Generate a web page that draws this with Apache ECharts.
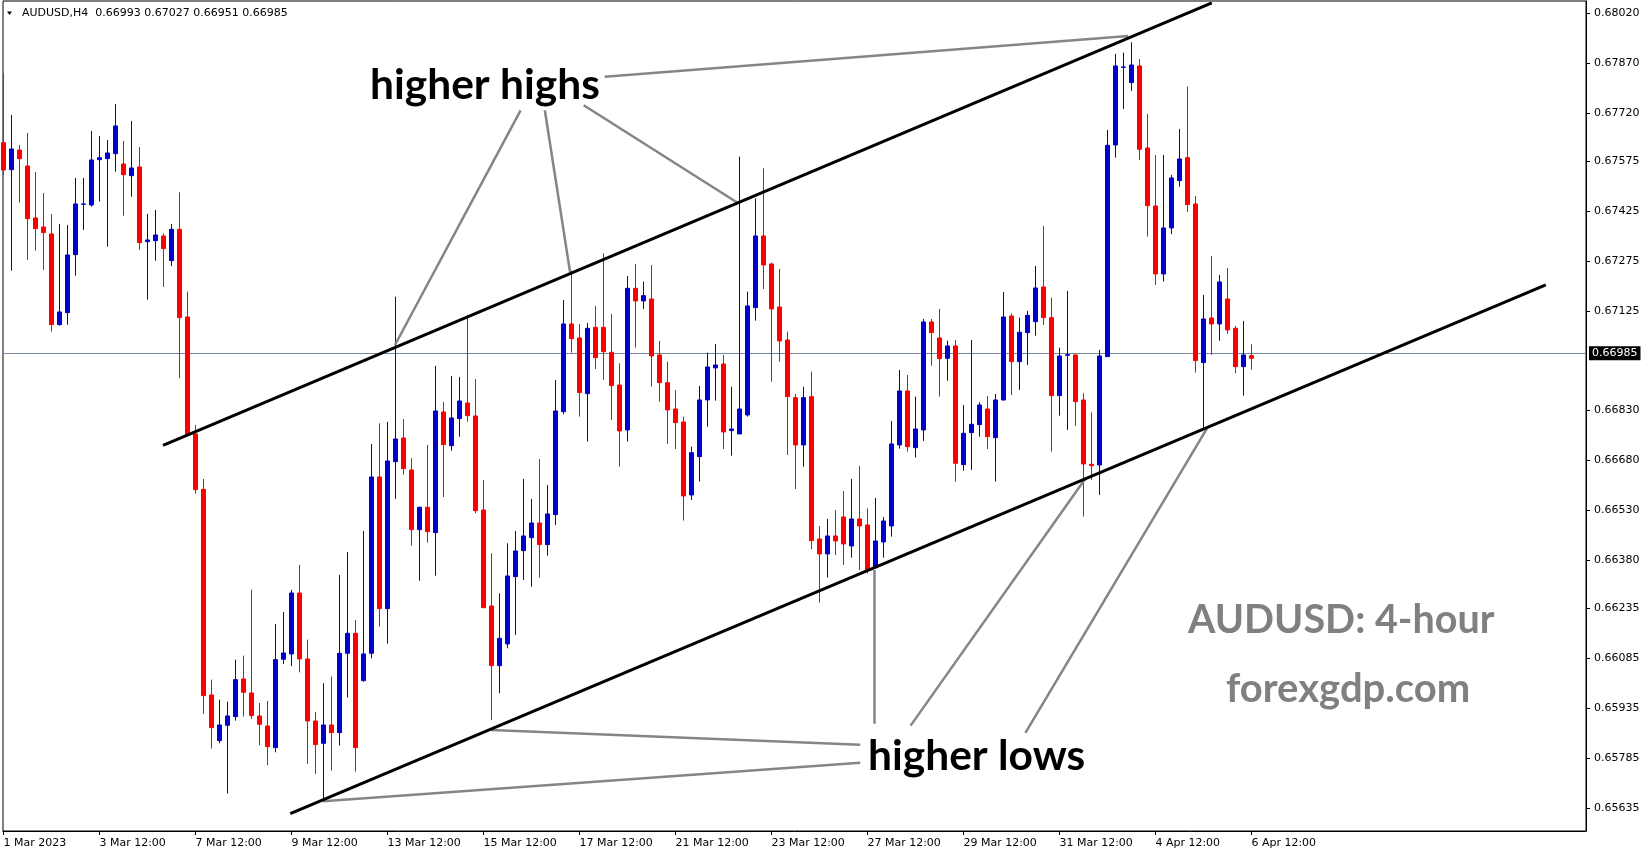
<!DOCTYPE html>
<html>
<head>
<meta charset="utf-8">
<script src="https://cdn.jsdelivr.net/npm/echarts@6/dist/echarts.min.js"></script>
<style>
html,body{margin:0;padding:0;background:#fff;}
#c{width:1649px;height:850px;}
</style>
</head>
<body>
<div id="c"></div>
<script>
// ---- data (AUDUSD H4, bar 0 = 1 Mar 2023 12:00) ----
const opens = [
0.67632,0.67551,0.67610,0.67562,0.67406,0.67379,0.67358,0.67086,0.67122,0.67296,
0.67447,0.67445,0.67581,0.67584,0.67599,0.67568,0.67533,0.67559,0.67335,0.67338,
0.67352,0.67278,0.67372,0.67109,0.66758,0.66592,0.65975,0.65838,0.65884,0.65910,
0.66023,0.65981,0.65912,0.65882,0.65817,0.66082,0.66098,0.66281,0.66083,0.65897,
0.65830,0.65885,0.65862,0.66100,0.66160,0.66018,0.66100,0.66629,0.66234,0.66675,
0.66746,0.66650,0.66471,0.66538,0.66462,0.66824,0.66723,0.66804,0.66851,0.66812,
0.66530,0.66242,0.66063,0.66128,0.66330,0.66408,0.66447,0.66491,0.66426,0.66516,
0.66825,0.67088,0.67046,0.66879,0.67078,0.67078,0.67003,0.66905,0.66770,0.67195,
0.67157,0.67163,0.66995,0.66912,0.66833,0.66794,0.66575,0.66690,0.66860,0.66956,
0.66968,0.66768,0.66758,0.66815,0.67137,0.67352,0.67268,0.67139,0.67040,0.66867,
0.66725,0.66870,0.66443,0.66398,0.66452,0.66509,0.66422,0.66503,0.66485,0.66357,
0.66434,0.66482,0.66725,0.66887,0.66717,0.66770,0.67094,0.67046,0.66985,0.67022,
0.66666,0.66762,0.66786,0.66833,0.66747,0.66860,0.67112,0.66975,0.67062,0.67095,
0.67199,0.67107,0.66873,0.66994,0.66995,0.66860,0.66667,0.66665,0.66990,0.67625,
0.67858,0.67812,0.67862,0.67616,0.67442,0.67238,0.67376,0.67518,0.67587,0.67448,
0.66972,0.67106,0.67088,0.67163,0.67075,0.66960,0.66993
];
const highs = [
0.67840,0.67715,0.67625,0.67661,0.67544,0.67481,0.67418,0.67388,0.67385,0.67526,
0.67526,0.67667,0.67652,0.67640,0.67748,0.67637,0.67697,0.67619,0.67418,0.67430,
0.67360,0.67388,0.67483,0.67185,0.66785,0.66623,0.66021,0.65961,0.65955,0.66081,
0.66093,0.66291,0.65951,0.65957,0.66188,0.66224,0.66290,0.66365,0.66141,0.65924,
0.66010,0.66030,0.66335,0.66404,0.66200,0.66467,0.66728,0.66790,0.66794,0.67170,
0.66803,0.66685,0.66540,0.66725,0.66962,0.66854,0.66932,0.66929,0.67115,0.66923,
0.66620,0.66400,0.66280,0.66430,0.66467,0.66623,0.66563,0.66683,0.66605,0.66920,
0.67160,0.67248,0.67088,0.67091,0.67142,0.67300,0.67118,0.66970,0.67232,0.67268,
0.67215,0.67265,0.67037,0.66975,0.66890,0.66810,0.66720,0.66902,0.67002,0.67028,
0.66995,0.66900,0.67590,0.67185,0.67465,0.67555,0.67272,0.67253,0.67065,0.66878,
0.66900,0.66945,0.66482,0.66503,0.66530,0.66587,0.66623,0.66662,0.66535,0.66566,
0.66509,0.66797,0.66950,0.66935,0.66870,0.67103,0.67103,0.67133,0.67038,0.67040,
0.66845,0.67040,0.66853,0.66872,0.66878,0.67184,0.67120,0.67107,0.67127,0.67262,
0.67382,0.67167,0.67017,0.67187,0.66997,0.66880,0.66823,0.67010,0.67670,0.67898,
0.67902,0.67933,0.67883,0.67718,0.67595,0.67595,0.67535,0.67673,0.67800,0.67472,
0.67175,0.67292,0.67235,0.67256,0.67082,0.67097,0.67027
];
const lows = [
0.67535,0.67248,0.67452,0.67280,0.67308,0.67250,0.67065,0.67083,0.67086,0.67233,
0.67370,0.67440,0.67455,0.67320,0.67545,0.67413,0.67470,0.67310,0.67161,0.67278,
0.67199,0.67262,0.66925,0.66754,0.66579,0.65918,0.65814,0.65830,0.65679,0.65898,
0.65910,0.65903,0.65824,0.65764,0.65803,0.66068,0.66062,0.66043,0.65768,0.65738,
0.65656,0.65748,0.65823,0.65967,0.65745,0.66015,0.66085,0.66180,0.66129,0.66563,
0.66636,0.66423,0.66318,0.66432,0.66333,0.66569,0.66708,0.66750,0.66795,0.66520,
0.66235,0.65900,0.65980,0.66115,0.66155,0.66320,0.66300,0.66327,0.66393,0.66485,
0.66817,0.67002,0.66810,0.66735,0.66953,0.66920,0.66800,0.66660,0.66735,0.67017,
0.67133,0.66900,0.66855,0.66728,0.66713,0.66498,0.66560,0.66615,0.66780,0.66858,
0.66713,0.66693,0.66758,0.66810,0.67098,0.67193,0.66915,0.66975,0.66695,0.66593,
0.66660,0.66412,0.66252,0.66327,0.66395,0.66365,0.66387,0.66350,0.66340,0.66357,
0.66387,0.66450,0.66714,0.66705,0.66687,0.66737,0.66963,0.66870,0.66918,0.66615,
0.66648,0.66650,0.66750,0.66713,0.66615,0.66858,0.66875,0.66890,0.66965,0.67053,
0.67085,0.66705,0.66813,0.66770,0.66782,0.66510,0.66620,0.66575,0.66990,0.67587,
0.67733,0.67787,0.67580,0.67350,0.67205,0.67215,0.67358,0.67500,0.67424,0.66942,
0.66775,0.66995,0.67038,0.67058,0.66940,0.66873,0.66951
];
const closes = [
0.67550,0.67613,0.67584,0.67404,0.67374,0.67362,0.67086,0.67124,0.67295,0.67448,
0.67448,0.67580,0.67587,0.67601,0.67682,0.67536,0.67556,0.67332,0.67340,0.67355,
0.67314,0.67372,0.67107,0.66756,0.66591,0.65973,0.65877,0.65885,0.65912,0.66021,
0.65983,0.65913,0.65887,0.65820,0.66081,0.66101,0.66281,0.66083,0.65897,0.65826,
0.65885,0.65862,0.66100,0.66160,0.65817,0.66098,0.66629,0.66234,0.66677,0.66743,
0.66654,0.66471,0.66538,0.66465,0.66827,0.66726,0.66806,0.66857,0.66813,0.66528,
0.66237,0.66063,0.66145,0.66332,0.66407,0.66452,0.66491,0.66426,0.66518,0.66827,
0.67088,0.67044,0.66882,0.67075,0.66987,0.67005,0.66903,0.66767,0.67195,0.67157,
0.67173,0.66992,0.66912,0.66830,0.66792,0.66572,0.66702,0.66860,0.66959,0.66965,
0.66764,0.66773,0.66833,0.67142,0.67352,0.67265,0.67133,0.67037,0.66870,0.66725,
0.66867,0.66438,0.66398,0.66452,0.66437,0.66428,0.66503,0.66482,0.66352,0.66437,
0.66497,0.66728,0.66887,0.66720,0.66773,0.67094,0.67062,0.66984,0.67022,0.66670,
0.66760,0.66787,0.66845,0.66750,0.66860,0.67109,0.66975,0.67063,0.67114,0.67196,
0.67107,0.66873,0.66992,0.66996,0.66855,0.66668,0.66663,0.66992,0.67624,0.67862,
0.67859,0.67865,0.67612,0.67443,0.67238,0.67376,0.67526,0.67583,0.67446,0.66978,
0.67103,0.67088,0.67214,0.67070,0.66960,0.66995,0.66985
];
const timeTickBars = [0,12,24,36,48,60,72,84,96,108,120,132,144,156];
const timeTickLabels = ['1 Mar 2023','3 Mar 12:00','7 Mar 12:00','9 Mar 12:00','13 Mar 12:00',
  '15 Mar 12:00','17 Mar 12:00','21 Mar 12:00','23 Mar 12:00','27 Mar 12:00','29 Mar 12:00',
  '31 Mar 12:00','4 Apr 12:00','6 Apr 12:00'];
const priceTickLabels = ['0.68020','0.67870','0.67720','0.67575','0.67425','0.67275','0.67125',
  '0.66830','0.66680','0.66530','0.66380','0.66235','0.66085','0.65935','0.65785','0.65635'];
const symbolName = 'AUDUSD,H4';
// channel trend lines [barIndex, price]
const upperChannel = [[19.95, 0.66724], [151.05, 0.68051]];
const lowerChannel = [[35.86, 0.65619], [192.8, 0.67205]];
// pointer lines from labels to swing points
const highPointers = [
  [[75.16, 0.67830], [140.6, 0.67952]],
  [[64.65, 0.67729], [48.95, 0.67025]],
  [[67.68, 0.67729], [70.83, 0.67244]],
  [[72.54, 0.67744], [91.86, 0.67450]]
];
const lowPointers = [
  [[107.1, 0.65826], [60.96, 0.65870]],
  [[107.1, 0.65772], [39.94, 0.65656]],
  [[108.8, 0.65889], [108.8, 0.66350]],
  [[113.4, 0.65883], [135.3, 0.66626]],
  [[127.75, 0.65861], [150.45, 0.66775]]
];

// ---- chart ----
const chart = echarts.init(document.getElementById('c'), null, {renderer: 'canvas', width: 1649, height: 850});
const candleData = opens.map((o, i) => [i, o, closes[i], lows[i], highs[i]]);
const priceTickValues = priceTickLabels.map(Number);
const last = opens.length - 1;
const lastPrice = closes[last];
const titleText = symbolName + '  ' + [opens[last], highs[last], lows[last], closes[last]].map(v => v.toFixed(5)).join(' ');
const toLines = segs => segs.map(s => ({coords: s}));
const mtFont = 'DejaVu Sans';

const option = {
  animation: false,
  backgroundColor: '#ffffff',
  grid: {left: 3, top: 1, width: 1583, height: 830, show: true, borderColor: '#000', borderWidth: 1, backgroundColor: 'transparent'},
  xAxis: {
    type: 'value', min: -0.05, max: 197.825, position: 'bottom',
    axisLine: {show: true, onZero: false, lineStyle: {color: '#000', width: 1}},
    axisTick: {show: true, customValues: timeTickBars, length: 4, lineStyle: {color: '#000'}},
    axisLabel: {
      show: true, customValues: timeTickBars, align: 'left', margin: 7,
      fontFamily: mtFont, fontSize: 11, color: '#000',
      formatter: v => timeTickLabels[timeTickBars.indexOf(Math.round(v))] || ''
    },
    splitLine: {show: false}
  },
  yAxis: {
    type: 'value', position: 'right', min: 0.655669, max: 0.680569, scale: true,
    axisLine: {show: true, onZero: false, lineStyle: {color: '#000', width: 1}},
    axisTick: {show: true, customValues: priceTickValues, length: 4, lineStyle: {color: '#000'}},
    axisLabel: {
      show: true, customValues: priceTickValues, margin: 8,
      fontFamily: mtFont, fontSize: 11, color: '#000',
      formatter: v => v.toFixed(5)
    },
    splitLine: {show: false}
  },
  series: [
    {
      type: 'candlestick',
      data: candleData,
      barWidth: 4,
      itemStyle: {color: '#0000cd', color0: '#ff0000', borderColor: '#0000cd', borderColor0: '#ff0000', borderWidth: 1},
      z: 3,
      markLine: {
        silent: true, symbol: ['none', 'none'], animation: false,
        data: [{yAxis: lastPrice}],
        lineStyle: {color: '#778899', width: 1, type: 'solid'},
        label: {show: true, position: 'end', distance: 3, formatter: lastPrice.toFixed(5),
          color: '#fff', backgroundColor: '#000', padding: [2, 3, 1, 3], fontFamily: mtFont, fontSize: 11},
        z: 1
      }
    },
    {
      type: 'lines', coordinateSystem: 'cartesian2d', silent: true, z: 6,
      data: toLines(highPointers.concat(lowPointers)),
      lineStyle: {color: '#858585', width: 2.5, opacity: 1, curveness: 0}
    },
    {
      type: 'lines', coordinateSystem: 'cartesian2d', silent: true, z: 7,
      data: toLines([upperChannel, lowerChannel]),
      lineStyle: {color: '#000000', width: 3, opacity: 1, curveness: 0}
    }
  ],
  graphic: [
    {type: 'polygon', z: 100, shape: {points: [[7, 11.5], [12, 11.5], [9.5, 15]]}, style: {fill: '#000'}},
    {type: 'text', z: 100, x: 22, y: 13.5, style: {text: titleText, font: '11px "DejaVu Sans"', fill: '#000',
      verticalAlign: 'middle', textVerticalAlign: 'middle'}},
    {type: 'text', z: 100, x: 370, y: 85, style: {text: 'higher highs', font: 'bold 42.5px Lato', fill: '#000',
      align: 'left', textAlign: 'left', verticalAlign: 'middle', textVerticalAlign: 'middle'}},
    {type: 'text', z: 100, x: 868, y: 756, style: {text: 'higher lows', font: 'bold 42.5px Lato', fill: '#000',
      align: 'left', textAlign: 'left', verticalAlign: 'middle', textVerticalAlign: 'middle'}},
    {type: 'text', z: 100, x: 1188, y: 620, style: {text: 'AUDUSD: 4-hour', font: 'bold 39.5px Lato', fill: '#808080',
      align: 'left', textAlign: 'left', verticalAlign: 'middle', textVerticalAlign: 'middle'}},
    {type: 'text', z: 100, x: 1226, y: 689, style: {text: 'forexgdp.com', font: 'bold 40px Lato', fill: '#808080',
      align: 'left', textAlign: 'left', verticalAlign: 'middle', textVerticalAlign: 'middle'}}
  ]
};
chart.setOption(option);
</script>
</body>
</html>
